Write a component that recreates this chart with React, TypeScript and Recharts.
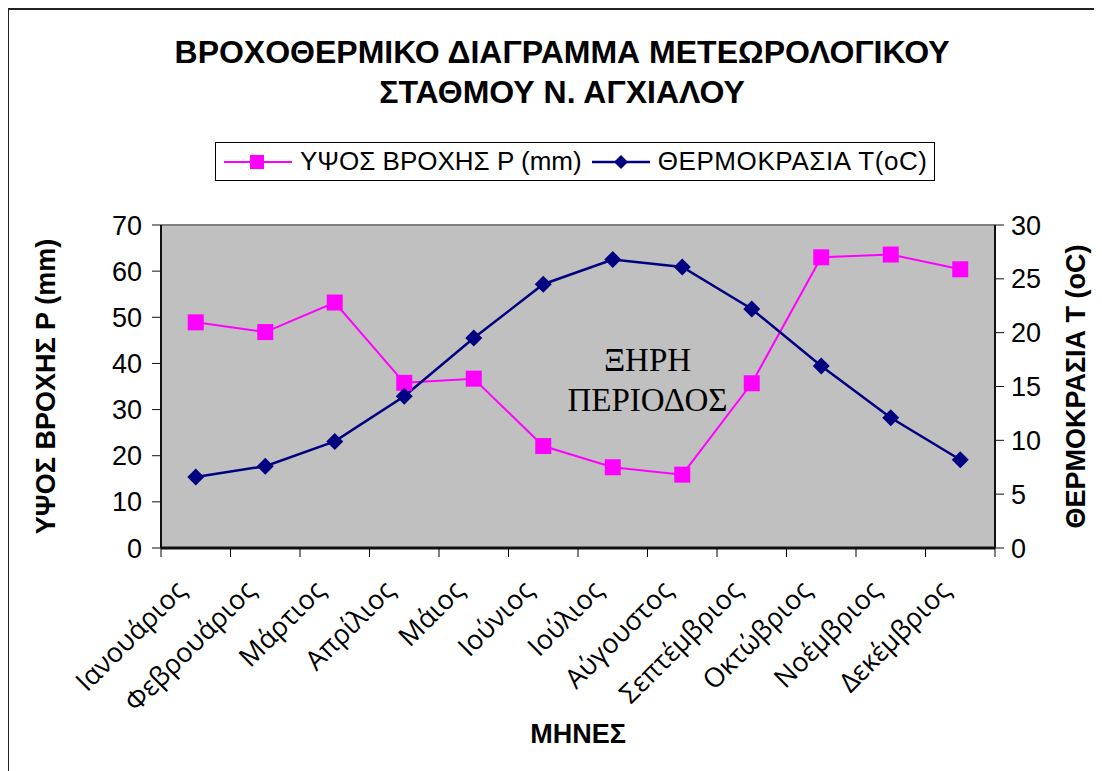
import {
    CartesianGrid,
    ComposedChart,
    Label,
    Line,
    ReferenceArea,
    ReferenceLine,
    XAxis,
    YAxis,
} from "recharts";

const months = [
    "Ιανουάριος",
    "Φεβρουάριος",
    "Μάρτιος",
    "Απρίλιος",
    "Μάιος",
    "Ιούνιος",
    "Ιούλιος",
    "Αύγουστος",
    "Σεπτέμβριος",
    "Οκτώβριος",
    "Νοέμβριος",
    "Δεκέμβριος",
];

// ύψος βροχής σε mm
const rain = [48.9, 46.8, 53.2, 35.8, 36.7, 22.1, 17.5, 15.9, 35.7, 63.0, 63.6, 60.4];

// θερμοκρασία σε oC
const temp = [6.6, 7.6, 9.9, 14.1, 19.5, 24.5, 26.8, 26.1, 22.2, 16.9, 12.1, 8.2];

const rainTicks = [0, 10, 20, 30, 40, 50, 60, 70];
const tempTicks = [0, 5, 10, 15, 20, 25, 30];

const rainName = "ΥΨΟΣ ΒΡΟΧΗΣ P (mm)";
const tempName = "ΘΕΡΜΟΚΡΑΣΙΑ T(oC)";

const data = months.map((m, i) => ({ month: m, rain: rain[i], temp: temp[i] }));

const PINK = "#FF00FF";
const NAVY = "#000080";
const FONT = "Arial, 'Liberation Sans', sans-serif";

function SquareDot(props: any) {
    const { cx, cy } = props;
    if (cx == null || cy == null) return null;
    return <rect x={cx - 8} y={cy - 8} width={16} height={16} fill={PINK} />;
}

function DiamondDot(props: any) {
    const { cx, cy } = props;
    if (cx == null || cy == null) return null;
    const r = 8.5;
    return (
        <polygon
            points={`${cx},${cy - r} ${cx + r},${cy} ${cx},${cy + r} ${cx - r},${cy}`}
            fill={NAVY}
        />
    );
}

function MonthTick(props: any) {
    const { x, y, payload, index, visibleTicksCount } = props;
    const half = payload && payload.offset > 5 ? payload.offset : 34.75;
    const tx = x - 8;
    const ty = y + 44;
    return (
        <g>
            <line x1={x - half} y1={y} x2={x - half} y2={y + 9} stroke="#000" />
            {index === visibleTicksCount - 1 && (
                <line x1={x + half} y1={y} x2={x + half} y2={y + 9} stroke="#000" />
            )}
            <text
                x={tx}
                y={ty}
                textAnchor="end"
                transform={`rotate(-45 ${tx} ${ty})`}
                fontSize={27}
                fontFamily="'Open Sans', 'Noto Sans', sans-serif"
                fill="#000"
            >
                {payload.value}
            </text>
        </g>
    );
}

function DryLabel(props: any) {
    const vb = props.viewBox;
    if (!vb) return null;
    const cx = vb.x + vb.width / 2;
    const cy = vb.y + vb.height / 2;
    return (
        <text
            textAnchor="middle"
            fontFamily="'Times New Roman', 'Liberation Serif', serif"
            fontSize={33}
            fill="#000"
        >
            <tspan x={cx} y={cy - 6}>ΞΗΡΗ</tspan>
            <tspan x={cx} y={cy + 34}>ΠΕΡΙΟΔΟΣ</tspan>
        </text>
    );
}

function LegendBox() {
    const itemText = { fontSize: 26, fontFamily: FONT, color: "#000" };
    return (
        <div
            style={{
                position: "absolute",
                left: 207,
                top: 134,
                width: 718,
                height: 37,
                border: "1px solid #000",
                background: "#fff",
                display: "flex",
                alignItems: "center",
                whiteSpace: "nowrap",
            }}
        >
            <svg width={74} height={20} style={{ marginLeft: 6 }}>
                <line x1={2} y1={10} x2={70} y2={10} stroke={PINK} strokeWidth={2} />
                <rect x={28} y={3} width={14} height={14} fill={PINK} />
            </svg>
            <span style={{ ...itemText, marginLeft: 4 }}>{rainName}</span>
            <svg width={64} height={20} style={{ marginLeft: 8 }}>
                <line x1={2} y1={10} x2={60} y2={10} stroke={NAVY} strokeWidth={2.5} />
                <polygon points="31,3 38,10 31,17 24,10" fill={NAVY} />
            </svg>
            <span style={{ ...itemText, marginLeft: 4, letterSpacing: 0.6 }}>{tempName}</span>
        </div>
    );
}

export default function App() {
    return (
        <div style={{ position: "relative", width: 1094, height: 763 }}>
            <style>{`html, body { overflow: hidden; }`}</style>
            <div
                style={{
                    position: "absolute",
                    left: -1,
                    top: 0,
                    width: 1200,
                    height: 900,
                    borderLeft: "2px solid #222",
                    borderTop: "2px solid #222",
                    boxSizing: "border-box",
                }}
            />
            <div
                style={{
                    position: "absolute",
                    left: 554,
                    top: 24,
                    transform: "translateX(-50%)",
                    textAlign: "center",
                    whiteSpace: "nowrap",
                    fontFamily: FONT,
                    fontWeight: "bold",
                    fontSize: 32,
                    lineHeight: "40px",
                    color: "#000",
                }}
            >
                ΒΡΟΧΟΘΕΡΜΙΚΟ ΔΙΑΓΡΑΜΜΑ ΜΕΤΕΩΡΟΛΟΓΙΚΟΥ
                <br />
                ΣΤΑΘΜΟΥ Ν. ΑΓΧΙΑΛΟΥ
            </div>
            <LegendBox />
            <div style={{ position: "absolute", left: 0, top: 0 }}>
                <ComposedChart
                    width={1094}
                    height={763}
                    data={data}
                    margin={{ top: 217, right: 0, bottom: 0, left: 0 }}
                >
                    <CartesianGrid
                        yAxisId="left"
                        fill="#C0C0C0"
                        horizontal={false}
                        vertical={false}
                    />
                    <XAxis
                        dataKey="month"
                        scale="band"
                        interval={0}
                        height={223}
                        tickSize={0}
                        tickMargin={0}
                        tickLine={false}
                        tick={<MonthTick />}
                        axisLine={{ stroke: "#111", strokeWidth: 3 }}
                    >
                        <Label
                            value="ΜΗΝΕΣ"
                            position="insideBottom"
                            offset={28}
                            style={{ fontFamily: FONT, fontWeight: "bold", fontSize: 27, fill: "#000" }}
                        />
                    </XAxis>
                    <YAxis
                        yAxisId="left"
                        width={153}
                        domain={[0, 70]}
                        ticks={rainTicks}
                        interval={0}
                        tickSize={9}
                        tickMargin={10}
                        axisLine={{ stroke: "#111", strokeWidth: 2 }}
                        tickLine={{ stroke: "#111" }}
                        tick={{ fontSize: 27, fontFamily: FONT, fill: "#000" }}
                    >
                        <Label
                            value={"ΥΨΟΣ ΒΡΟΧΗΣ P (mm)"}
                            angle={-90}
                            position="insideLeft"
                            offset={37}
                            style={{
                                textAnchor: "middle",
                                fontFamily: FONT,
                                fontWeight: "bold",
                                fontSize: 27,
                                fill: "#000",
                            }}
                        />
                    </YAxis>
                    <YAxis
                        yAxisId="right"
                        orientation="right"
                        width={107}
                        domain={[0, 30]}
                        ticks={tempTicks}
                        interval={0}
                        tickSize={9}
                        tickMargin={7}
                        axisLine={{ stroke: "#111", strokeWidth: 2 }}
                        tickLine={{ stroke: "#111" }}
                        tick={{ fontSize: 27, fontFamily: FONT, fill: "#000" }}
                    >
                        <Label
                            value={"ΘΕΡΜΟΚΡΑΣΙΑ T (oC)"}
                            angle={-90}
                            position="insideRight"
                            offset={27}
                            style={{
                                textAnchor: "middle",
                                fontFamily: FONT,
                                fontWeight: "bold",
                                fontSize: 27,
                                fill: "#000",
                            }}
                        />
                    </YAxis>
                    <ReferenceLine yAxisId="left" y={70} stroke="#808080" strokeWidth={2} />
                    <ReferenceArea
                        yAxisId="left"
                        x1="Ιούλιος"
                        x2="Αύγουστος"
                        y1={28}
                        y2={46}
                        fill="none"
                        stroke="none"
                        label={<DryLabel />}
                    />
                    <Line
                        yAxisId="left"
                        dataKey="rain"
                        name={rainName}
                        stroke={PINK}
                        strokeWidth={2}
                        dot={<SquareDot />}
                        activeDot={false}
                        isAnimationActive={false}
                    />
                    <Line
                        yAxisId="right"
                        dataKey="temp"
                        name={tempName}
                        stroke={NAVY}
                        strokeWidth={2.5}
                        dot={<DiamondDot />}
                        activeDot={false}
                        isAnimationActive={false}
                    />
                </ComposedChart>
            </div>
        </div>
    );
}
